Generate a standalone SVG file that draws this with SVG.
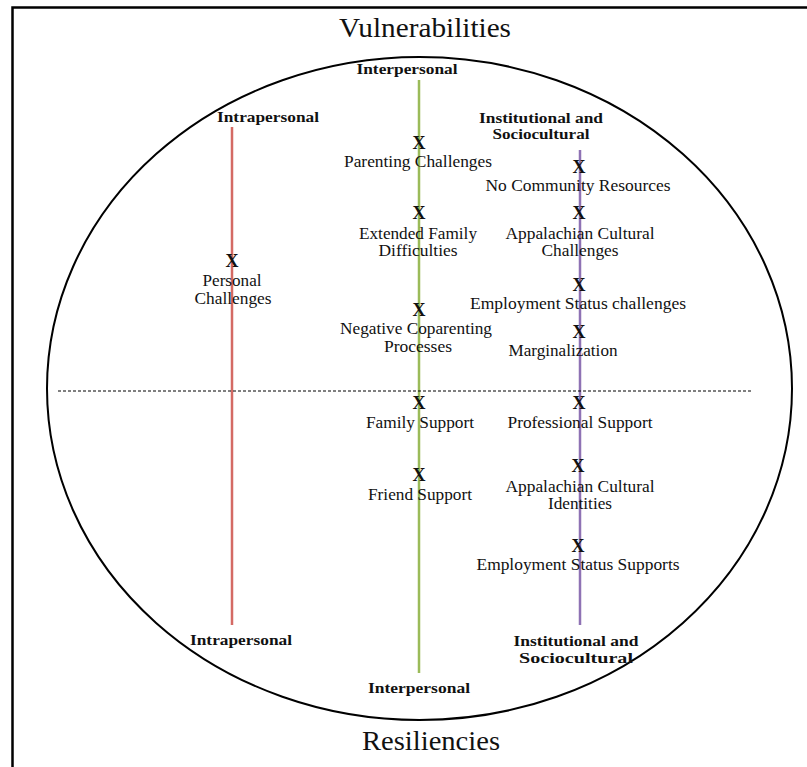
<svg xmlns="http://www.w3.org/2000/svg" width="807" height="767" viewBox="0 0 807 767">
<style>
.t{font-family:"Liberation Serif","Times New Roman",serif;font-size:16px;fill:#111;text-anchor:middle}
.h{font-family:"Liberation Serif","Times New Roman",serif;font-size:27px;fill:#111;text-anchor:middle}
.b{font-family:"Liberation Serif","Times New Roman",serif;font-size:15px;font-weight:bold;fill:#111;text-anchor:middle}
.x{font-family:"Liberation Serif","Times New Roman",serif;font-size:18px;font-weight:bold;fill:#111;text-anchor:middle}
</style>
<rect width="807" height="767" fill="#fff"/>
<rect x="12.5" y="7.5" width="820" height="800" fill="none" stroke="#000" stroke-width="2.5"/>
<text class="h" x="425" y="37" textLength="172" lengthAdjust="spacingAndGlyphs">Vulnerabilities</text>
<text class="h" x="431" y="750" textLength="138" lengthAdjust="spacingAndGlyphs">Resiliencies</text>
<ellipse cx="419.5" cy="388.5" rx="372.5" ry="331.5" fill="none" stroke="#000" stroke-width="2"/>
<g id="connectors">
<line x1="232" y1="127" x2="232" y2="625" stroke="#d46a64" stroke-width="2.5"/>
<line x1="419" y1="80" x2="419" y2="673" stroke="#9bbb59" stroke-width="2.5"/>
<line x1="580" y1="150" x2="580" y2="625" stroke="#8e72b4" stroke-width="2.5"/>
<line x1="58" y1="391" x2="752" y2="391" stroke="#000" stroke-width="1" stroke-dasharray="3,2"/>
</g>
<g id="headers">
<text class="b" x="268" y="122" textLength="102" lengthAdjust="spacingAndGlyphs">Intrapersonal</text>
<text class="b" x="407" y="74" textLength="101" lengthAdjust="spacingAndGlyphs">Interpersonal</text>
<text class="b" x="541" y="123" textLength="124" lengthAdjust="spacingAndGlyphs">Institutional and</text>
<text class="b" x="541" y="139" textLength="97" lengthAdjust="spacingAndGlyphs">Sociocultural</text>
<text class="b" x="241" y="645" textLength="102" lengthAdjust="spacingAndGlyphs">Intrapersonal</text>
<text class="b" x="419" y="693" textLength="102" lengthAdjust="spacingAndGlyphs">Interpersonal</text>
<text class="b" x="576" y="646" textLength="125" lengthAdjust="spacingAndGlyphs">Institutional and</text>
<text class="b" x="576" y="663" textLength="114" lengthAdjust="spacingAndGlyphs">Sociocultural</text>
</g>
<g id="n-personal"><text class="x" x="232" y="267">X</text><text class="t" x="232" y="286" textLength="59" lengthAdjust="spacingAndGlyphs">Personal</text><text class="t" x="233" y="304" textLength="77" lengthAdjust="spacingAndGlyphs">Challenges</text></g>
<g id="n-parenting"><text class="x" x="419" y="149">X</text><text class="t" x="418" y="167" textLength="148" lengthAdjust="spacingAndGlyphs">Parenting Challenges</text></g>
<g id="n-extended"><text class="x" x="419" y="219">X</text><text class="t" x="418" y="239" textLength="118" lengthAdjust="spacingAndGlyphs">Extended Family</text><text class="t" x="418" y="256" textLength="79" lengthAdjust="spacingAndGlyphs">Difficulties</text></g>
<g id="n-coparenting"><text class="x" x="419" y="316">X</text><text class="t" x="416" y="334" textLength="152" lengthAdjust="spacingAndGlyphs">Negative Coparenting</text><text class="t" x="418" y="352" textLength="68" lengthAdjust="spacingAndGlyphs">Processes</text></g>
<g id="n-community"><text class="x" x="579" y="173">X</text><text class="t" x="578" y="191" textLength="185" lengthAdjust="spacingAndGlyphs">No Community Resources</text></g>
<g id="n-appchallenges"><text class="x" x="579" y="219">X</text><text class="t" x="580" y="239" textLength="149" lengthAdjust="spacingAndGlyphs">Appalachian Cultural</text><text class="t" x="580" y="256" textLength="77" lengthAdjust="spacingAndGlyphs">Challenges</text></g>
<g id="n-employchallenges"><text class="x" x="579" y="291">X</text><text class="t" x="578" y="309" textLength="216" lengthAdjust="spacingAndGlyphs">Employment Status challenges</text></g>
<g id="n-marginal"><text class="x" x="579" y="338">X</text><text class="t" x="563" y="356" textLength="109" lengthAdjust="spacingAndGlyphs">Marginalization</text></g>
<g id="n-family"><text class="x" x="419" y="409">X</text><text class="t" x="420" y="428" textLength="108" lengthAdjust="spacingAndGlyphs">Family Support</text></g>
<g id="n-professional"><text class="x" x="579" y="409">X</text><text class="t" x="580" y="428" textLength="145" lengthAdjust="spacingAndGlyphs">Professional Support</text></g>
<g id="n-friend"><text class="x" x="419" y="481">X</text><text class="t" x="420" y="500" textLength="104" lengthAdjust="spacingAndGlyphs">Friend Support</text></g>
<g id="n-appidentities"><text class="x" x="578" y="472">X</text><text class="t" x="580" y="492" textLength="149" lengthAdjust="spacingAndGlyphs">Appalachian Cultural</text><text class="t" x="580" y="509" textLength="64" lengthAdjust="spacingAndGlyphs">Identities</text></g>
<g id="n-employsupports"><text class="x" x="578" y="552">X</text><text class="t" x="578" y="570" textLength="203" lengthAdjust="spacingAndGlyphs">Employment Status Supports</text></g>
</svg>
